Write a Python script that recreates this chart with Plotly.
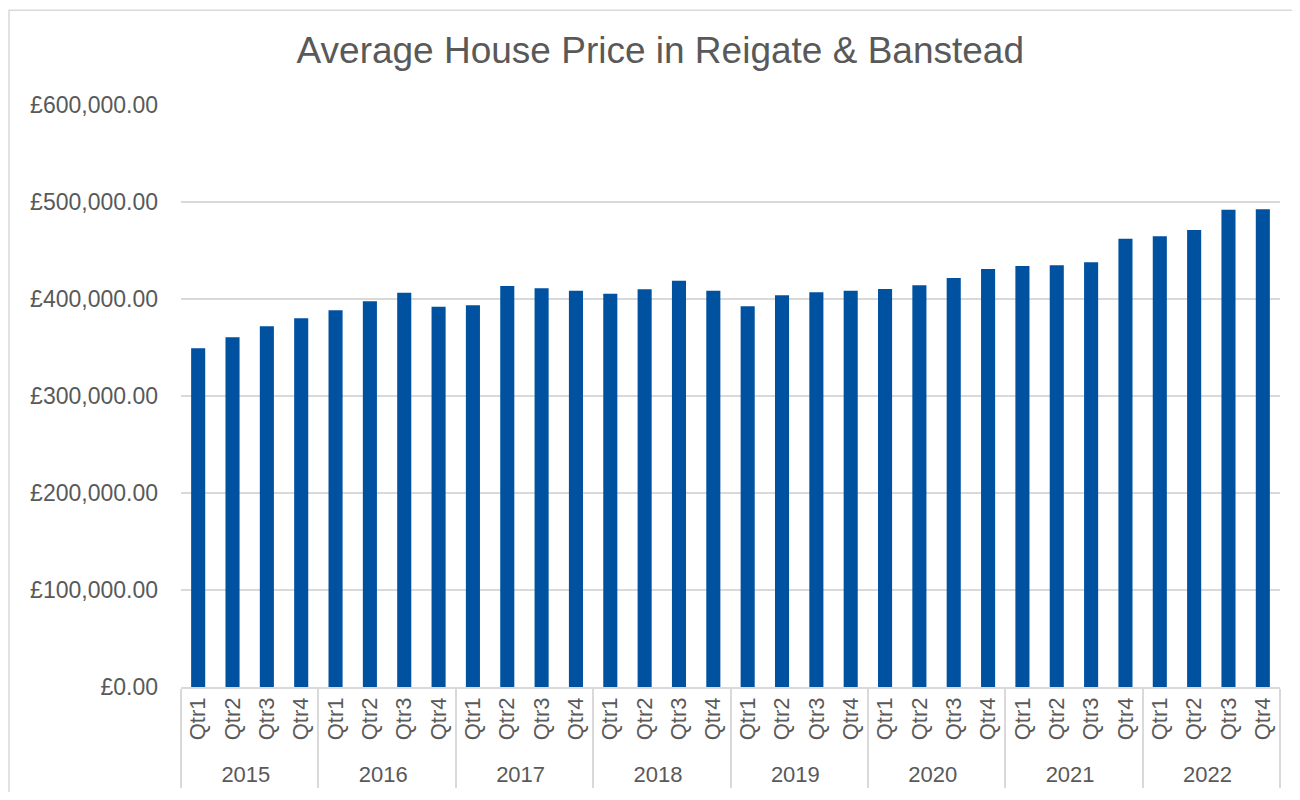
import plotly.graph_objects as go

years = ["2015", "2016", "2017", "2018", "2019", "2020", "2021", "2022"]
quarters = ["Qtr1", "Qtr2", "Qtr3", "Qtr4"]
prices = [
    349200, 360500, 371800, 380100,
    388300, 397600, 406500, 392100,
    393500, 413400, 411000, 408600,
    405500, 410000, 418900, 408600,
    392500, 403800, 406900, 408600,
    410300, 414100, 421600, 430900,
    433900, 434700, 437800, 462200,
    464600, 471100, 492100, 492500,
]

x_years = [y for y in years for _ in quarters]
x_qtrs = [q for _ in years for q in quarters]

fig = go.Figure(go.Bar(
    x=[x_years, x_qtrs],
    y=prices,
    marker=dict(color="#0052A1", line=dict(width=0)),
))

font_family = "Liberation Sans, Arial, sans-serif"
fig.update_layout(
    width=1284, height=784,
    paper_bgcolor="white", plot_bgcolor="white",
    margin=dict(l=173, r=12, t=97, b=105),
    bargap=0.59,
    showlegend=False,
    title=dict(text="Average House Price in Reigate & Banstead",
               x=0.508, xanchor="center", y=0.946, yanchor="middle",
               font=dict(family=font_family, size=37, color="#595959")),
    font=dict(family=font_family, size=23, color="#595959"),
)
fig.update_yaxes(
    range=[0, 600000], dtick=100000,
    tickprefix="£", tickformat=",.2f",
    showgrid=True, gridcolor="#D9D9D9", gridwidth=1.5,
    zeroline=False, showline=False, ticks="",
    ticklabelstandoff=22, automargin=False,
    tickfont=dict(size=23, color="#595959"),
)
fig.update_xaxes(
    type="multicategory",
    tickangle=-90, automargin=False,
    showline=True, linecolor="#D9D9D9", linewidth=1.5,
    showdividers=True, dividercolor="#D9D9D9", dividerwidth=1.5,
    ticks="", showgrid=False,
    tickfont=dict(size=22, color="#595959"),
)
fig.add_shape(type="rect", xref="paper", yref="paper",
              x0=-0.1565, x1=1.05, y0=-0.3, y1=1.163,
              line=dict(color="#D9D9D9", width=1.5), fillcolor="rgba(0,0,0,0)")

fig.write_html("out.html")
